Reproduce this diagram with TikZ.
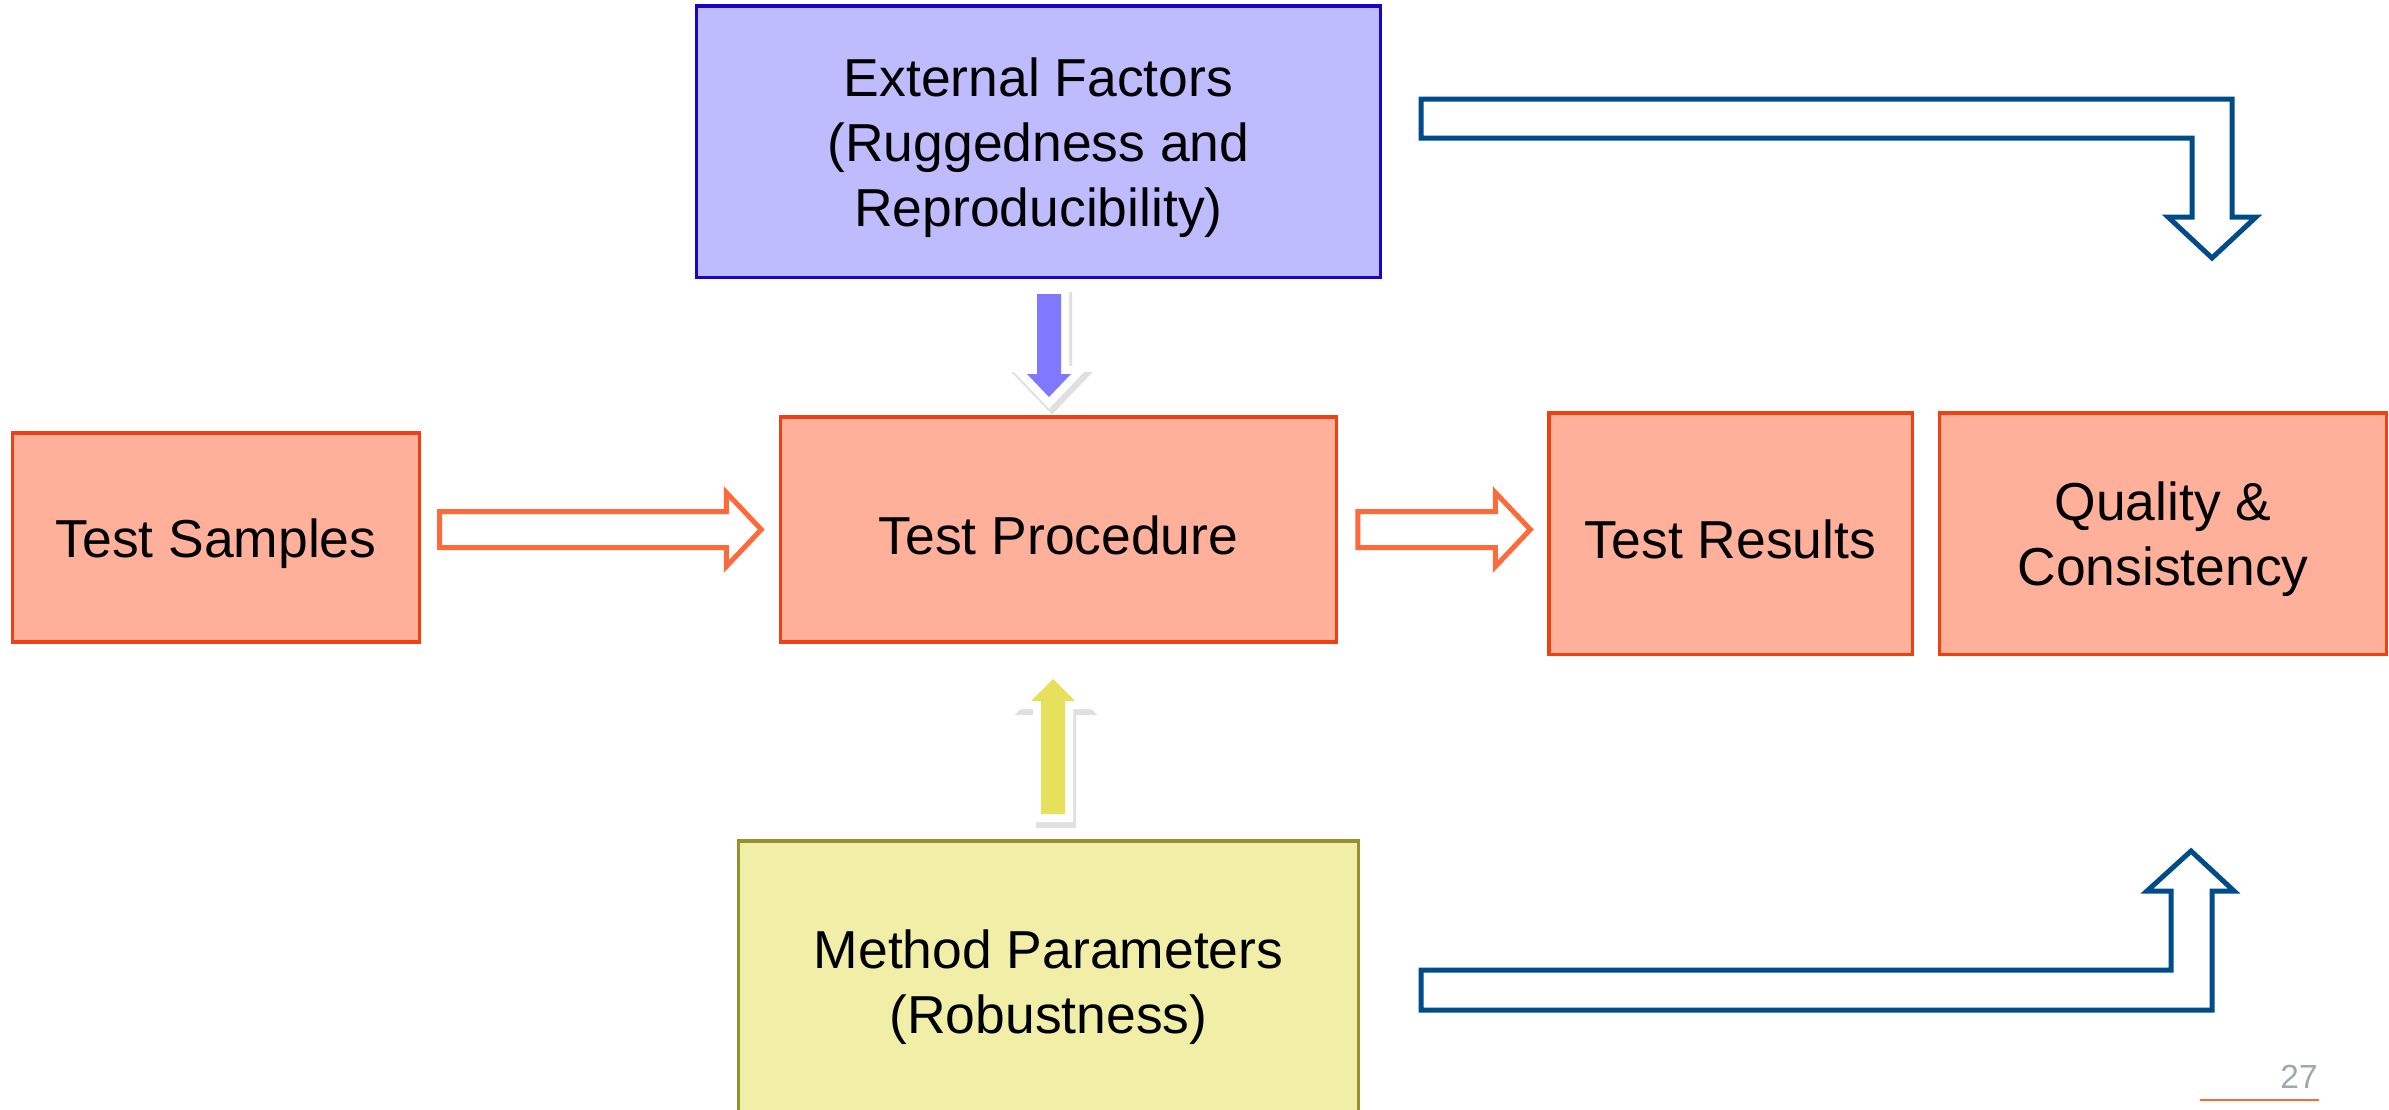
\documentclass[tikz,border=0pt]{standalone}
\usepackage{fontspec}
\setmainfont{Liberation Sans}
\usetikzlibrary{calc, positioning}
\definecolor{extfill}{RGB}{191,187,255}
\definecolor{extline}{RGB}{25,5,200}
\definecolor{testfill}{RGB}{255,176,155}
\definecolor{testline}{RGB}{238,66,20}
\definecolor{methfill}{RGB}{241,238,168}
\definecolor{methline}{RGB}{150,145,45}
\definecolor{flowcol}{RGB}{255,106,58}
\definecolor{loopcol}{RGB}{0,76,138}
\definecolor{purplearr}{RGB}{128,120,255}
\definecolor{yellowarr}{RGB}{230,224,90}
\definecolor{pagegray}{RGB}{160,166,173}

\tikzset{
  box/.style={draw, line width=0.9pt, inner sep=0pt},
  boxtext/.style={align=center, font=\fontsize{15.2}{18.5}\selectfont, yshift=-0.06cm},
  extbox/.style={box, fill=extfill, draw=extline},
  testbox/.style={box, fill=testfill, draw=testline},
  methbox/.style={box, fill=methfill, draw=methline},
  flowarr/.style={draw=flowcol, line width=0.05cm, fill=white},
  looparr/.style={draw=loopcol, line width=0.05cm, fill=white},
  fatrim/.style={fill=white, draw=white, line width=0.16cm},
  fatshadow/.style={fill=black, draw=black, line width=0.16cm, opacity=0.12, shift={(3,6)}},
}

% hollow block arrow, from #1 (tail) to #2 (tip), horizontal
\newcommand{\flowarrow}[2]{%
  \draw[flowarr] ($(#1)+(0,-18)$) -- ($(#2)+(-35,-18)$) -- ($(#2)+(-35,-37)$) -- (#2)
    -- ($(#2)+(-35,37)$) -- ($(#2)+(-35,18)$) -- ($(#1)+(0,18)$) -- cycle;}
% white-rimmed arrow with a soft shadow
\newcommand{\fatarrow}[2]{%
  \draw[fatshadow] #2;
  \draw[fatrim] #2;
  \fill[#1] #2;}

\begin{document}
\begin{tikzpicture}[x=0.01cm, y=-0.01cm]
  \useasboundingbox (0,0) rectangle (2389,1109);

  % ---- Boxes ----
  \node[extbox, minimum width=6.83cm, minimum height=2.71cm,
    label={[boxtext]center:External Factors\\(Ruggedness and\\Reproducibility)}] (ext) at (1038.5,141.5) {};
  \node[testbox, minimum width=4.06cm, minimum height=2.09cm,
    label={[boxtext]center:Test Samples}] (samp) at (216,537.5) {};
  \node[testbox, minimum width=5.55cm, minimum height=2.25cm,
    label={[boxtext]center:Test Procedure}] (proc) at (1058.5,529.5) {};
  \node[testbox, minimum width=3.63cm, minimum height=2.41cm,
    label={[boxtext]center:Test Results}] (res) at (1730.5,533.5) {};
  \node[testbox, minimum width=4.46cm, minimum height=2.41cm,
    label={[boxtext]center:Quality \&\\Consistency}] (qual) at (2163,533.5) {};
  \node[methbox, minimum width=6.19cm, minimum height=2.80cm,
    label={[boxtext]center:Method Parameters\\(Robustness)}] (meth) at (1048.5,981) {};

  % ---- Flow arrows ----
  \coordinate (a1s) at ($(samp.east |- proc.west)+(19,0)$);
  \coordinate (a1e) at ($(proc.west)+(-18,0)$);
  \flowarrow{a1s}{a1e}
  \coordinate (a2s) at ($(proc.east)+(20,0)$);
  \coordinate (a2e) at ($(res.west |- proc.east)+(-17,0)$);
  \flowarrow{a2s}{a2e}

  % ---- Influence arrows ----
  \fatarrow{purplearr}{(1037,294) -- (1061,294) -- (1061,374) -- (1071,374) -- (1049,397) -- (1027,374) -- (1037,374) -- cycle}
  \fatarrow{yellowarr}{(1041,814) -- (1065,814) -- (1065,701) -- (1075,701) -- (1053,679) -- (1031,701) -- (1041,701) -- cycle}

  % ---- Bent arrows to quality ----
  \draw[looparr] (1421,99) -- (2232,99) -- (2232,217) -- (2256,217) -- (2212,258) -- (2168,217)
    -- (2192,217) -- (2192,138) -- (1421,138) -- cycle;
  \draw[looparr] (1421,970) -- (2171,970) -- (2171,891) -- (2147,891) -- (2191,851) -- (2234,891)
    -- (2212,891) -- (2212,1010) -- (1421,1010) -- cycle;

  % page number
  \node[text=pagegray, font=\fontsize{9.5}{11}\selectfont] (pgnum) at (2299,1077) {27};
  \draw[flowcol, line width=0.4pt] (2200,1100) -- (2319,1100);
\end{tikzpicture}
\end{document}
